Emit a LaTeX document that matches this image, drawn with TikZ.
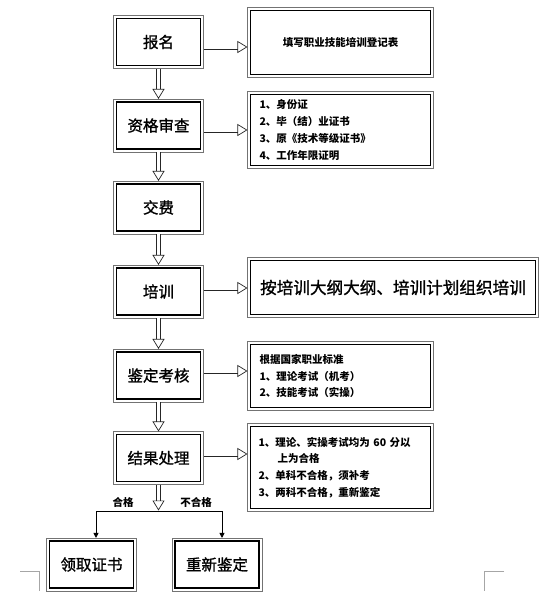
\documentclass[tikz,border=0pt]{standalone}
\usepackage{fontspec}
\newfontfamily\cjk{Noto Sans CJK SC}
\newfontfamily\cjkfb[FakeBold=1.2]{Noto Sans CJK SC}
\usetikzlibrary{arrows.meta,calc}
\begin{document}
\begin{tikzpicture}[x=1pt,y=-1pt,
  lbox/.style={draw=black, line width=1.1pt, fill=white, minimum width=84pt, minimum height=47pt, inner sep=0pt, font=\cjkfb\fontsize{15.5}{18}\selectfont},
  rbox/.style={draw=black, line width=1.1pt, fill=white, inner sep=0pt, font=\cjk\bfseries\fontsize{10.5}{16.7}\selectfont, align=left},
  outerframe/.style={draw=black!55, line width=0.8pt},
  harrow/.style={draw=black!85, line width=0.7pt, double=white, double distance=3.6pt, shorten <=2.5pt, shorten >=2.5pt, -{Triangle[open, length=10pt, width=12pt, line width=0.7pt]}},
  sarrow/.style={draw=black, line width=0.8pt, -{Triangle[length=5pt, width=5pt]}},
  lab/.style={font=\cjk\bfseries\fontsize{10.5}{12}\selectfont, inner sep=0pt},
  corner/.style={draw=black!35, line width=0.7pt}]
\useasboundingbox (0,0) rectangle (557,611);
\fill[white] (0,0) rectangle (557,611);
% left column
\node[lbox] (bm) at (158.5,42) {报名};
\node[lbox] (zg) at (158.5,125.5) {资格审查};
\node[lbox] (jf) at (158.5,207.5) {交费};
\node[lbox] (px) at (158.5,291.5) {培训};
\node[lbox] (jd) at (158.5,375.5) {鉴定考核};
\node[lbox] (jg) at (158.5,458) {结果处理};
\node[lbox] (lq) at (91.5,564.5) {领取证书};
\node[lbox] (cx) at (217,564.5) {重新鉴定};
% right column
\node[rbox, minimum width=180pt, minimum height=64pt, align=center] (r1) at (340.5,42.5) {填写职业技能培训登记表};
\node[rbox, minimum width=180pt, minimum height=71pt, text width=162pt] (r2) at (340.5,130) {1、身份证\\2、毕（结）业证书\\3、原《技术等级证书》\\4、工作年限证明};
\node[rbox, minimum width=285pt, minimum height=54pt, align=center, font=\cjkfb\fontsize{16.6}{20}\selectfont] (r3) at (393,287.5) {按培训大纲大纲、培训计划组织培训};
\node[rbox, minimum width=180pt, minimum height=63pt, text width=162pt] (r5) at (340.5,376) {根据国家职业标准\\1、理论考试（机考）\\2、技能考试（实操）};
\node[rbox, minimum width=180pt, minimum height=82pt, text width=164pt] (r6) at (340.5,467.5) {1、理论、实操考试均为 60 分以\\\hspace*{19pt}上为合格\\2、单科不合格，须补考\\3、两科不合格，重新鉴定};
% outer frames
\foreach \n in {bm,zg,jf,px,jd,jg,lq,cx,r1,r2,r3,r5,r6}
  \draw[outerframe] ($(\n.north west)+(-2.5,-2.5)$) rectangle ($(\n.south east)+(2.5,2.5)$);
% vertical arrows
\draw[harrow] (bm.south) -- (zg.north);
\draw[harrow] (zg.south) -- (jf.north);
\draw[harrow] (jf.south) -- (px.north);
\draw[harrow] (px.south) -- (jd.north);
\draw[harrow] (jd.south) -- (jg.north);
% horizontal arrows
\draw[harrow] ([yshift=-5pt]bm.east) -- ([yshift=-5pt]bm.east -| r1.west);
\draw[harrow] ([yshift=-4.5pt]zg.east) -- ([yshift=-4.5pt]zg.east -| r2.west);
\draw[harrow] ([yshift=3.5pt]px.east) -- ([yshift=3.5pt]px.east -| r3.west);
\draw[harrow] ([yshift=4.5pt]jd.east) -- ([yshift=4.5pt]jd.east -| r5.west);
\draw[harrow] ([yshift=4pt]jg.east) -- ([yshift=4pt]jg.east -| r6.west);
% branch
\coordinate (br) at (158.5,511);
\coordinate (bl) at (96,511);
\coordinate (brr) at (222,511);
\draw[harrow, shorten >=0.5pt] (jg.south) -- (br);
\draw[line width=0.8pt] (bl) -- (brr);
\draw[sarrow, shorten >=2.5pt] (bl) -- (bl |- lq.north);
\draw[sarrow, shorten >=2.5pt] (brr) -- (brr |- cx.north);
\node[lab] (hg) at (123,502.5) {合格};
\node[lab] (bhg) at (196,502.5) {不合格};
% page corner marks
\draw[corner] (20,571) -- (39,571) -- (39,591);
\draw[corner] (504,571) -- (484,571) -- (484,591);
\end{tikzpicture}
\end{document}
